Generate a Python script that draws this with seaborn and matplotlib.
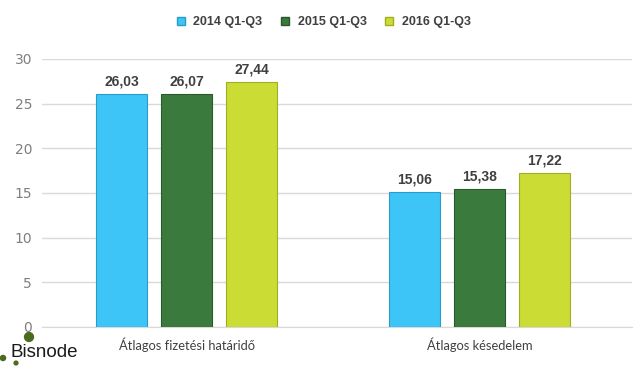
import pandas as pd
import matplotlib
matplotlib.use('Agg')
import matplotlib.pyplot as plt
import seaborn as sns
from matplotlib.patches import Patch

categories = ["Átlagos fizetési határidő", "Átlagos késedelem"]
periods = ["2014 Q1-Q3", "2015 Q1-Q3", "2016 Q1-Q3"]
values_2014 = [26.03, 15.06]
values_2015 = [26.07, 15.38]
values_2016 = [27.44, 17.22]
colors = ["#3ec5f7", "#3b7a3d", "#cbdc35"]
edges = ["#2a9cc7", "#2a5a2c", "#9fae22"]

rows = []
for period, vals in zip(periods, [values_2014, values_2015, values_2016]):
    for cat, v in zip(categories, vals):
        rows.append({"Kategória": cat, "Időszak": period, "Érték": v})
df = pd.DataFrame(rows)

sns.set_style("white")
plt.rcParams['font.family'] = ['DejaVu Sans']
arial = ['Liberation Sans', 'DejaVu Sans']

fig = plt.figure(figsize=(6.44, 3.66), dpi=100)
ax = fig.add_axes([0.065, 0.107, 0.916, 0.732])

sns.barplot(data=df, x="Kategória", y="Érték", hue="Időszak", palette=colors,
            saturation=1, width=0.666, gap=0.215, ax=ax, legend=False, zorder=3)

for cont, ec in zip(ax.containers, edges):
    for bar in cont:
        bar.set_edgecolor(ec)
        bar.set_linewidth(0.8)
    labels = [f"{b.get_height():.2f}".replace(".", ",") for b in cont]
    ax.bar_label(cont, labels=labels, padding=4, fontsize=10, fontweight='bold',
                 color="#404040", family=arial)

ax.set_ylim(0, 30)
ax.set_yticks(range(0, 31, 5))
ax.set_xlim(-0.495, 1.519)
ax.yaxis.grid(True, color="#d9d9d9", linewidth=1, zorder=0)
ax.set_axisbelow(True)
for s in ["top", "right", "left"]:
    ax.spines[s].set_visible(False)
ax.spines["bottom"].set_color("#d9d9d9")
ax.tick_params(axis='y', length=0, labelsize=10, labelcolor="#7f7f7f", pad=7)
ax.tick_params(axis='x', length=0, labelsize=9.3, labelcolor="#404040", pad=8)
ax.set_xlabel("")
ax.set_ylabel("")
for lbl in ax.get_xticklabels():
    lbl.set_family(['Lato', 'DejaVu Sans'])

# legend
handles = [Patch(facecolor=c, edgecolor=e) for c, e in zip(colors, edges)]
fig.legend(handles, periods, loc="center", bbox_to_anchor=(0.503, 0.94), ncol=3,
           frameon=False, handlelength=0.6, handleheight=0.6, handletextpad=0.7,
           columnspacing=1.5, prop={'weight': 'bold', 'size': 9, 'family': arial},
           labelcolor="#404040")

# logo
fig.text(0.016, 0.038, "Bisnode", fontsize=13.5, color="#1a1a1a", va="center", ha="left",
         family=arial)
logo = fig.add_axes([0, 0, 1, 1], zorder=-1)
logo.set_xlim(0, 644)
logo.set_ylim(366, 0)
logo.axis("off")
logo.scatter([29, 3, 16], [337, 358, 363], s=[55, 22, 14], color="#4a6a1e", linewidths=0)

fig.savefig("out.png", dpi=100)
